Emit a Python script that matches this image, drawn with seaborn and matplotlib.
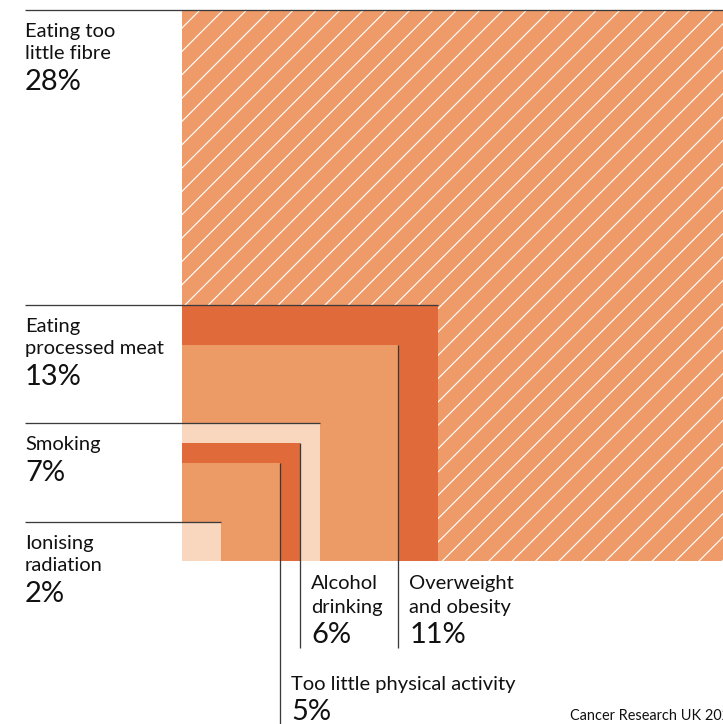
import matplotlib
matplotlib.use("Agg")
import matplotlib.pyplot as plt
import seaborn as sns

# Share of cancer cases linked to each risk factor (%)
factors = [
    "Eating too\nlittle fibre",
    "Eating\nprocessed meat",
    "Overweight\nand obesity",
    "Smoking",
    "Alcohol\ndrinking",
    "Too little physical activity",
    "Ionising\nradiation",
]
values = [28, 13, 11, 7, 6, 5, 2]
label_side = ["left", "left", "below", "left", "below", "below", "left"]
fills = ["#EE9B69", "#E06A3A", "#EC9A66", "#F9D7BE", "#E06A3A", "#EC9A66", "#F9D7BE"]
hatched = [True, False, False, False, False, False, False]
source = "Cancer Research UK 2023"

sns.set_theme(style="white")
plt.rcParams["font.family"] = ["Lato", "DejaVu Sans"]
plt.rcParams["hatch.linewidth"] = 0.6

DPI = 140
W, H = 723, 724
fig = plt.figure(figsize=(W / DPI, H / DPI), dpi=DPI)
ax = fig.add_axes([0, 0, 1, 1])

# pixels per percentage point; squares share the bottom-left corner
scale = 551 / 28
x0_px, y0_px = 182, 163
ax.set_xlim(-x0_px / scale, (W - x0_px) / scale)
ax.set_ylim(-y0_px / scale, (H - y0_px) / scale)
ax.set_axis_off()


def pt(n):
    """pixels -> points"""
    return n * 72 / DPI


ink = "#111111"
rule = "#3a3a3a"
name_size = pt(20.2)
pct_size = pt(29)

# nested squares, side proportional to the value
for v, c, h in zip(values, fills, hatched):
    ax.bar(0, v, width=v, align="edge", color=c,
           edgecolor="white" if h else c,
           linewidth=0, hatch="//" if h else None, zorder=1)

left_px = 25
for name, v, side in zip(factors, values, label_side):
    lines = name.split("\n")
    if side == "left":
        xl = (left_px - x0_px) / scale
        ax.plot([xl, v], [v, v], color=rule, lw=pt(1.3), zorder=3,
                solid_capstyle="butt", clip_on=False)
        for i, ln in enumerate(lines):
            ax.annotate(ln, (xl, v), xytext=(0, -pt(27 + 22 * i)),
                        textcoords="offset points", ha="left", va="baseline",
                        fontsize=name_size, color=ink)
        ax.annotate(f"{v}%", (xl, v),
                    xytext=(0, -pt(27 + 22 * (len(lines) - 1) + 31)),
                    textcoords="offset points", ha="left", va="baseline",
                    fontsize=pct_size, color=ink)
    else:
        one_line = len(lines) == 1
        bottom = -(y0_px / scale) if one_line else -87 / scale
        ax.plot([v, v], [v, bottom], color=rule, lw=pt(1.3), zorder=3,
                solid_capstyle="butt", clip_on=False)
        first = 129 if one_line else 28
        for i, ln in enumerate(lines):
            ax.annotate(ln, (v, 0), xytext=(pt(11), -pt(first + 24 * i)),
                        textcoords="offset points", ha="left", va="baseline",
                        fontsize=name_size, color=ink)
        ax.annotate(f"{v}%", (v, 0),
                    xytext=(pt(11), -pt(first + 24 * (len(lines) - 1) + 30)),
                    textcoords="offset points", ha="left", va="baseline",
                    fontsize=pct_size, color=ink)

fig.text(570 / W, 4 / H, source, ha="left", va="baseline",
         fontsize=pt(14.5), color=ink)

fig.savefig("out.png", dpi=DPI)
